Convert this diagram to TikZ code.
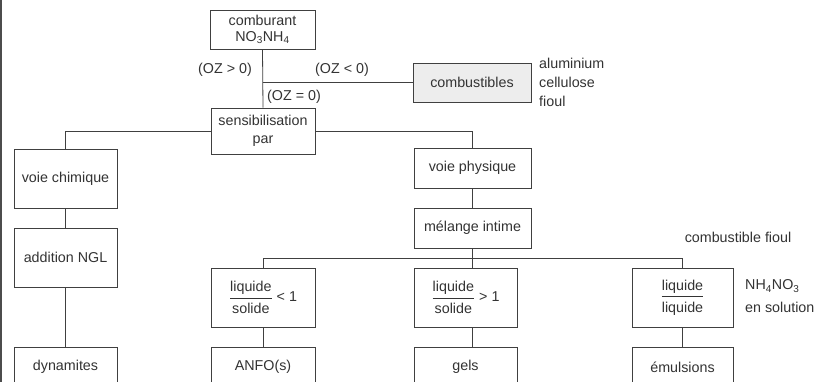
\documentclass[tikz,border=0pt]{standalone}
\usepackage{fontspec}
\setmainfont{Liberation Sans}
\newcommand{\lsfrac}[2]{$\displaystyle\frac{\mbox{#1}\rule[-5pt]{0pt}{5pt}}{\mbox{#2}\rule{0pt}{14pt}}$}
\begin{document}
\begin{tikzpicture}[x=1pt,y=-1pt,
  every node/.style={font=\fontsize{14.3}{17}\selectfont, text=black!80},
  box/.style={draw=black!75, line width=0.8pt, fill=white, inner sep=0pt, align=center, minimum height=59pt},
  lab/.style={inner sep=0pt},
  conn/.style={draw=black!75, line width=0.8pt}]
\useasboundingbox (0,0) rectangle (823,382);
\clip (0,0) rectangle (823,382);
\fill[white] (0,0) rectangle (823,382);
\draw[black!70, line width=1.5pt] (1,0) -- (1,382);

\node[box, minimum width=105pt, minimum height=39pt] (comb) at (262.5,29.5) {comburant\\[-1pt]NO\textsubscript{3}NH\textsubscript{4}};
\node[box, minimum width=118pt, minimum height=39pt, fill=black!7] (combus) at (472,82.5) {combustibles};
\node[box, minimum width=104pt, minimum height=46pt] (sens) at (263,131) {sensibilisation\\[1pt]par};
\node[box, minimum width=103pt] (vch) at (65.5,178.5) {voie chimique};
\node[box, minimum width=103pt] (ngl) at (65.5,257.5) {addition NGL};
\node[box, minimum width=103pt, minimum height=40pt] (dyn) at (65.5,367) {dynamites};
\node[box, minimum width=117pt, minimum height=40pt] (vph) at (472.5,168) {voie physique};
\node[box, minimum width=117pt, minimum height=40pt] (mel) at (472.5,228) {mélange intime};
\node[box, minimum width=104pt] (ls1) at (263,297.5) {\lsfrac{liquide}{solide} < 1};
\node[box, minimum width=103pt] (ls2) at (465.5,297.5) {\lsfrac{liquide}{solide} > 1};
\node[box, minimum width=101pt] (ls3) at (682.5,297.5) {\lsfrac{liquide}{liquide}};
\node[box, minimum width=104pt, minimum height=40pt] (anfo) at (263,367) {ANFO(s)};
\node[box, minimum width=103pt, minimum height=40pt] (gels) at (465.5,367) {gels};
\node[box, minimum width=101pt, minimum height=40pt] (emul) at (682.5,367) {émulsions};

\node[lab] (ozp) at (225,70) {(OZ > 0)};
\node[lab] (ozn) at (342,70) {(OZ < 0)};
\node[lab] (oze) at (294,97) {(OZ = 0)};
\node[lab, anchor=west] (alu) at (539,63) {aluminium};
\node[lab, anchor=west] (cel) at (539,82) {cellulose};
\node[lab, anchor=west] (fio) at (539,101) {fioul};
\node[lab] (cfi) at (738,237) {combustible fioul};
\node[lab, anchor=west] (nh) at (745,286) {NH\textsubscript{4}NO\textsubscript{3}};
\node[lab, anchor=west] (sol) at (745,307) {en solution};

\coordinate (j) at (472.5,258);
\draw[conn] (comb.south) -- (sens.north);
\draw[conn] (comb.south |- combus.west) -- (combus.west);
\draw[conn] (sens.west) -- (vch.north |- sens.west) -- (vch.north);
\draw[conn] (sens.east) -- (vph.north |- sens.east) -- (vph.north);
\draw[conn] (vch.south) -- (ngl.north);
\draw[conn] (ngl.south) -- (dyn.north);
\draw[conn] (vph.south) -- (mel.north);
\draw[conn] (mel.south) -- (mel.south |- ls2.north);
\draw[conn] (ls1.north) -- (ls1.north |- j) -- (ls3.north |- j) -- (ls3.north);
\draw[conn] (ls1.south) -- (anfo.north);
\draw[conn] (ls2.south -| mel.south) -- (gels.north -| mel.south);
\draw[conn] (ls3.south) -- (emul.north);
\end{tikzpicture}
\end{document}
